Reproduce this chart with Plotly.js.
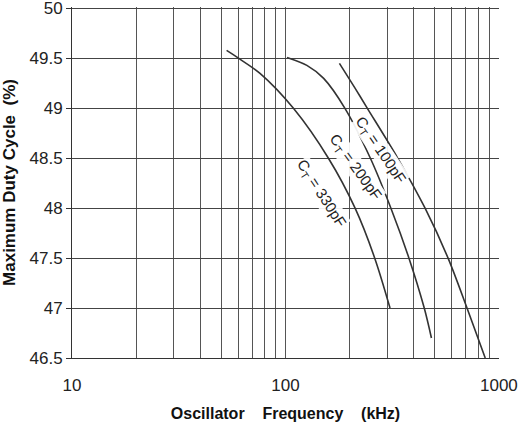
<!DOCTYPE html>
<html>
<head>
<meta charset="utf-8">
<script src="https://cdn.plot.ly/plotly-3.0.1.min.js"></script>
<style>html,body{margin:0;padding:0;background:#fff;}#chart{width:518px;height:426px;}</style>
</head>
<body>
<div id="chart"></div>
<script>
// Data
var freq330 = [53, 60.5, 76, 109, 159, 212, 262, 309];
var duty330 = [49.58, 49.5, 49.35, 49.0, 48.5, 48.0, 47.5, 47.0];
var freq200 = [101.7, 126, 151, 190, 250, 312, 379, 447, 483];
var duty200 = [49.51, 49.43, 49.3, 49.0, 48.5, 48.0, 47.5, 47.0, 46.7];
var freq100 = [179, 215, 242, 336, 451, 578, 709, 863];
var duty100 = [49.45, 49.18, 49.0, 48.5, 48.0, 47.5, 47.0, 46.5];

var labelText = ["C<sub>T</sub> = 330pF", "C<sub>T</sub> = 200pF", "C<sub>T</sub> = 100pF"];
var labelX = [147, 213, 279];
var labelY = [48.15, 48.41, 48.58];
var labelAngle = [57, 54, 56];

var xTickVals = [10, 100, 1000];
var xMinorVals = [20, 30, 40, 50, 60, 70, 80, 90, 100, 200, 300, 400, 500, 600, 700, 800, 900];
var yTickVals = [46.5, 47, 47.5, 48, 48.5, 49, 49.5, 50];

var lineStyle = {color: '#333', width: 1.6, shape: 'spline', smoothing: 0.9};
var traces = [
  {x: freq330, y: duty330, mode: 'lines', line: lineStyle, hoverinfo: 'skip'},
  {x: freq200, y: duty200, mode: 'lines', line: lineStyle, hoverinfo: 'skip'},
  {x: freq100, y: duty100, mode: 'lines', line: lineStyle, hoverinfo: 'skip'}
];

var annotations = labelText.map(function (t, i) {
  return {
    x: Math.log10(labelX[i]), y: labelY[i], xref: 'x', yref: 'y',
    text: t, showarrow: false, textangle: labelAngle[i],
    bgcolor: 'rgba(255,255,255,0.92)', borderpad: 0,
    font: {family: 'Liberation Sans, Arial, sans-serif', size: 15, color: '#222'}
  };
});

var layout = {
  width: 518, height: 426,
  margin: {l: 72, r: 19, t: 6.5, b: 68},
  paper_bgcolor: '#fff', plot_bgcolor: '#fff',
  showlegend: false,
  font: {family: 'Liberation Sans, Arial, sans-serif', color: '#222'},
  xaxis: {
    type: 'log', range: [1, 3.0005],
    tickmode: 'array', tickvals: xTickVals, ticktext: xTickVals.map(String),
    showgrid: false,
    minor: {tickvals: xMinorVals, showgrid: true, gridcolor: '#555', gridwidth: 1, ticks: ''},
    showline: true, linecolor: '#333', linewidth: 1,
    ticks: '', tickfont: {size: 17, color: '#222'},
    ticklabelstandoff: 12, ticklabeloverflow: 'allow',
    zeroline: false,
    title: {text: '<b>Oscillator&nbsp;&nbsp;&nbsp; Frequency&nbsp;&nbsp;&nbsp; (kHz)</b>', font: {size: 16, color: '#111'}, standoff: 13}
  },
  yaxis: {
    range: [46.5, 50.015],
    tickmode: 'array', tickvals: yTickVals, ticktext: yTickVals.map(String),
    showgrid: true, gridcolor: '#444', gridwidth: 1,
    showline: true, linecolor: '#333', linewidth: 1,
    ticks: 'outside', ticklen: 5, tickcolor: '#333',
    tickfont: {size: 17, color: '#222'},
    ticklabeloverflow: 'allow',
    zeroline: false,
    title: {text: '<b>Maximum Duty Cycle&nbsp;&nbsp;(%)</b>', font: {size: 17, color: '#111'}, standoff: 11}
  },
  annotations: annotations
};

Plotly.newPlot('chart', traces, layout, {staticPlot: true, displayModeBar: false});
</script>
</body>
</html>
